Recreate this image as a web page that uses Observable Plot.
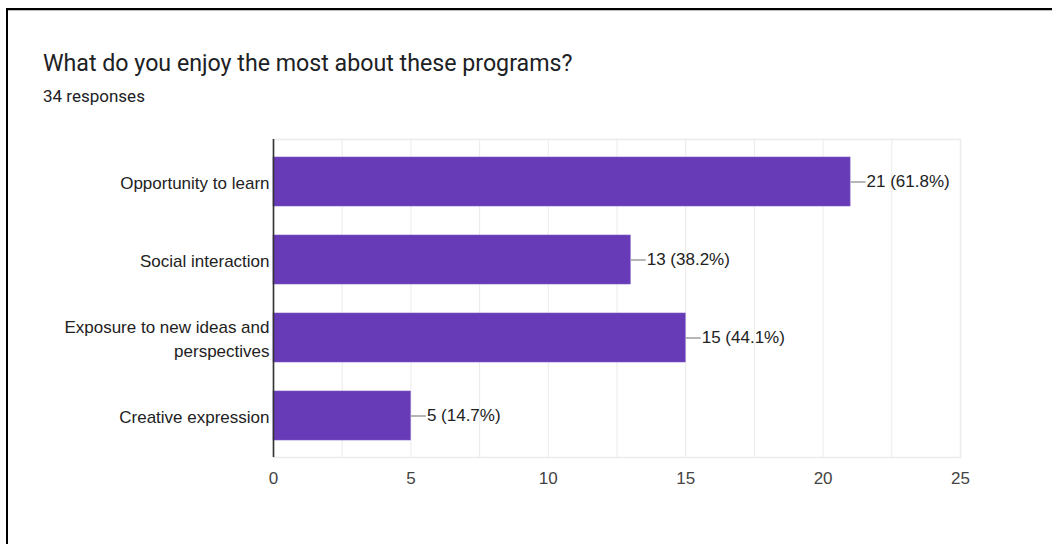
<!DOCTYPE html>
<html>
<head>
<meta charset="utf-8">
<script src="https://cdn.jsdelivr.net/npm/d3@7"></script>
<script src="https://cdn.jsdelivr.net/npm/@observablehq/plot@0.6"></script>
<style>
  html, body { margin: 0; padding: 0; background: #fff; width: 1052px; height: 544px; overflow: hidden; }
  #frame { position: absolute; left: 6px; top: 8px; width: 1200px; height: 700px; border-left: 2px solid #000; border-top: 2px solid #000; box-shadow: 0 1px 0 #bbb inset; }
  #title { position: absolute; left: 43px; top: 50px; font-family: Roboto, sans-serif; font-size: 23.2px; line-height: 27px; color: #202124; white-space: nowrap; }
  #subtitle { position: absolute; left: 43px; top: 86px; font-family: Roboto, sans-serif; font-size: 17px; line-height: 21px; color: #202124; white-space: nowrap; }
  #chart { position: absolute; left: 0; top: 119px; }
</style>
</head>
<body>
<div id="frame"></div>
<div id="title">What do you enjoy the most about these programs?</div>
<div id="subtitle">34 responses</div>
<div id="chart"></div>
<script>
const categories = ["Opportunity to learn", "Social interaction", "Exposure to new ideas and perspectives", "Creative expression"];
const categoryLabels = ["Opportunity to learn", "Social interaction", "Exposure to new ideas and\nperspectives", "Creative expression"];
const counts = [21, 13, 15, 5];
const percents = ["61.8%", "38.2%", "44.1%", "14.7%"];
const gridTicks = [0, 2.5, 5, 7.5, 10, 12.5, 15, 17.5, 20, 22.5, 25];
const axisTicks = [0, 5, 10, 15, 20, 25];

const data = categories.map((c, i) => ({cat: c, label: categoryLabels[i], value: counts[i], text: `${counts[i]} (${percents[i]})`}));

const leader = { draw(context, size) { context.moveTo(0, 0); context.lineTo(15, 0); } };

const chart = Plot.plot({
  width: 1052,
  height: 424,
  marginLeft: 273,
  marginRight: 92,
  marginTop: 20,
  marginBottom: 86,
  style: { fontFamily: "Arial, 'Liberation Sans', sans-serif", fontSize: "17px", color: "#444", background: "transparent" },
  x: { domain: [0, 25], ticks: axisTicks, label: null },
  y: { domain: categories, paddingInner: 0.377, paddingOuter: 0.21, label: null, axis: null },
  marks: [
    Plot.gridX(gridTicks, { stroke: "#ebebeb", strokeOpacity: 1, strokeWidth: 1 }),
    Plot.frame({ stroke: "#ebebeb", strokeWidth: 1.5 }),
    Plot.axisX(axisTicks, { tickSize: 0, tickPadding: 14, fontSize: 17, fill: "#444", label: null }),
    Plot.barX(data, { y: "cat", x: "value", fill: "#673ab7", stroke: "#7d5bc4", strokeWidth: 0.6 }),
    Plot.dot(data, { x: "value", y: "cat", symbol: leader, r: 4, stroke: "#9e9e9e", strokeWidth: 1.5, fill: "none" }),
    Plot.text(data, { x: "value", y: "cat", text: "text", dx: 16, textAnchor: "start", fill: "#222", fontSize: 17 }),
    Plot.text(data, { x: 0, y: "cat", text: "label", dx: -4, dy: -1, textAnchor: "end", fill: "#222", fontSize: 17, lineHeight: 1.45 }),
    Plot.ruleX([0], { stroke: "#333", strokeWidth: 1.6 })
  ]
});
document.getElementById("chart").appendChild(chart);
</script>
</body>
</html>
